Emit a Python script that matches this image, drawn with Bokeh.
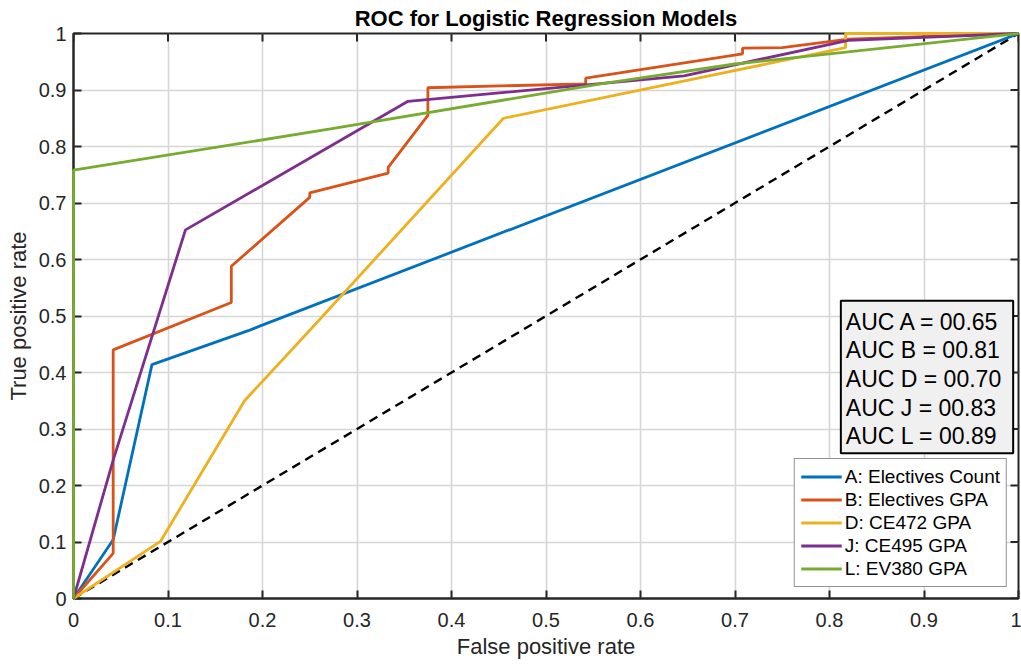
import math
from bokeh.plotting import figure
from bokeh.models import FixedTicker, CustomJSTickFormatter, Label, Range1d
from bokeh.embed import file_html
from bokeh.resources import INLINE

# ---- data ----
fpr_A = [0, 0.042, 0.083, 0.185, 0.197, 1.0]
tpr_A = [0, 0.104, 0.414, 0.474, 0.482, 1.0]

fpr_B = [0, 0.042, 0.042, 0.167, 0.167, 0.25, 0.25, 0.333, 0.333, 0.375, 0.375,
         0.542, 0.542, 0.708, 0.708, 0.75, 0.82, 1.0]
tpr_B = [0, 0.08, 0.44, 0.524, 0.588, 0.71, 0.718, 0.753, 0.763, 0.855, 0.904,
         0.911, 0.921, 0.964, 0.974, 0.975, 0.99, 1.0]

fpr_D = [0, 0.092, 0.181, 0.253, 0.455, 0.817, 0.817, 1.0]
tpr_D = [0, 0.101, 0.35, 0.48, 0.85, 0.975, 1.0, 1.0]

fpr_J = [0, 0.042, 0.1185, 0.354, 0.646, 0.82, 1.0]
tpr_J = [0, 0.245, 0.6525, 0.88, 0.925, 0.988, 1.0]

fpr_L = [0, 0, 0.272, 0.558, 0.7, 1.0]
tpr_L = [0, 0.758, 0.831, 0.911, 0.946, 1.0]

chance_x = [0, 1]
chance_y = [0, 1]

series_labels = ["A: Electives Count", "B: Electives GPA", "D: CE472 GPA",
                 "J: CE495 GPA", "L: EV380 GPA"]
series_colors = ["#0072BD", "#D95319", "#EDB120", "#7E2F8E", "#77AC30"]
auc_names = ["A", "B", "D", "J", "L"]
auc_values = [0.65, 0.81, 0.70, 0.83, 0.89]

ticks = [0, 0.1, 0.2, 0.3, 0.4, 0.5, 0.6, 0.7, 0.8, 0.9, 1.0]

FONT = "Liberation Sans"
DARK = "#262626"

p = figure(frame_width=945, frame_height=565,
           x_range=Range1d(0, 1), y_range=Range1d(0, 1),
           output_backend="svg", toolbar_location=None,
           min_border_left=73, min_border_right=3,
           min_border_top=33, min_border_bottom=67,
           title="ROC for Logistic Regression Models")
p.outline_line_color = DARK
p.outline_line_width = 2
p.outline_line_alpha = 1.0

p.title.align = "center"
p.title.text_font = FONT
p.title.text_font_size = "22px"
p.title.text_font_style = "bold"
p.title.text_color = "black"
p.title.standoff = 6
p.title.offset = 0

fmt = CustomJSTickFormatter(code="return Number(tick.toFixed(1)).toString();")
ticker = FixedTicker(ticks=ticks)

for ax in (p.xaxis[0], p.yaxis[0]):
    ax.ticker = ticker
    ax.formatter = fmt
    ax.major_tick_in = 8
    ax.major_tick_out = 0
    ax.minor_tick_line_color = None
    ax.major_tick_line_color = DARK
    ax.major_tick_line_width = 2
    ax.axis_line_color = DARK
    ax.axis_line_width = 2
    ax.major_label_text_font = FONT
    ax.major_label_text_font_size = "20px"
    ax.major_label_text_color = DARK
    ax.axis_label_text_font = FONT
    ax.axis_label_text_font_size = "22px"
    ax.axis_label_text_font_style = "normal"
    ax.axis_label_text_color = DARK

p.xaxis.axis_label = "False positive rate"
p.yaxis.axis_label = "True positive rate"
p.xaxis.major_label_standoff = 14
p.yaxis.major_label_standoff = 7
p.xaxis.axis_label_standoff = 4
p.yaxis.axis_label_standoff = 5

p.xgrid.ticker = ticker
p.ygrid.ticker = ticker
p.grid.grid_line_color = "#d6d6d6"
p.grid.grid_line_width = 1.6

xs = [fpr_A, fpr_B, fpr_D, fpr_J, fpr_L]
ys = [tpr_A, tpr_B, tpr_D, tpr_J, tpr_L]
for x, y, c, lab in zip(xs, ys, series_colors, series_labels):
    p.line(x, y, line_color=c, line_width=2.8, legend_label=lab, level="overlay")

p.line(chance_x, chance_y, line_color="black", line_width=2.4, line_dash="9 6")

# inward ticks on the top and right edges of the box (MATLAB "box on")
top_y = [p.y_range.end] * len(ticks)
right_x = [p.x_range.end] * len(ticks)
p.scatter(ticks, top_y, marker="dash", size=16, angle=math.pi / 2,
          line_color=DARK, line_width=2)
p.scatter(right_x, ticks, marker="dash", size=16, angle=0,
          line_color=DARK, line_width=2)

auc_text = "\n".join("AUC %s = %05.2f" % (n, v) for n, v in zip(auc_names, auc_values))
auc = Label(x=0.812, y=0.527, x_units="data", y_units="data", text=auc_text,
            text_align="left", text_baseline="top",
            text_font=FONT, text_font_size="23px", text_line_height=1.10,
            text_color="black",
            background_fill_color="#f0f0f0", background_fill_alpha=1.0,
            border_line_color="black", border_line_width=2,
            padding=dict(left=5, right=12, top=8, bottom=4))
p.add_layout(auc)

lg = p.legend[0]
lg.location = "bottom_right"
lg.margin = 11
lg.border_line_color = DARK
lg.border_line_width = 1.5
lg.background_fill_color = "white"
lg.background_fill_alpha = 1.0
lg.label_text_font = FONT
lg.label_text_font_size = "19px"
lg.label_text_color = "black"
lg.glyph_width = 41
lg.glyph_height = 23
lg.label_height = 23
lg.label_standoff = 3
lg.spacing = 0
lg.padding = 6

open("out.html", "w").write(file_html(p, INLINE))
